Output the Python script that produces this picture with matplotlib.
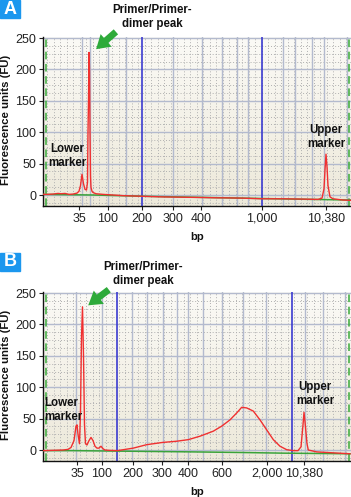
import numpy as np
import matplotlib
matplotlib.use("Agg")
import matplotlib.pyplot as plt
from matplotlib.colors import LinearSegmentedColormap

plt.rcParams['font.family'] = ['Liberation Sans', 'DejaVu Sans']

W, H = 351, 497

# x axis is migration position (arbitrary units, 0..308); labels are bp
a_tick_pos = [36, 65, 99, 130, 158, 219, 283]
a_tick_lab = ['35', '100', '200', '300', '400', '1,000', '10,380']
a_blue = [99, 219]

a_red_x = [0, 5, 10, 15, 18, 22, 26, 30, 34, 36, 37.5, 39, 40.5, 42, 43.5, 44.5, 45, 45.5,
           46, 46.5, 47, 47.5, 48, 49, 50, 53, 60, 70, 80, 99, 120, 140, 160, 175, 180, 200,
           219, 240, 260, 275, 279, 281, 282, 283, 284, 285, 287, 290, 295, 300, 308]
a_red_y = [1, 1, 1.5, 2.5, 2, 2.5, 1, 1.5, 3, 6, 15, 33, 18, 9, 8, 20, 100, 150,
           227, 200, 100, 30, 12, 6, 4, 2, 1, 0, -1, -2, -3, -3.5, -4, -4.5, -4.5, -5,
           -6, -6, -6.5, -7, -5, 10, 40, 65, 45, 15, -3, -6, -7, -8, -8.5]
a_green_x = [0, 50, 100, 150, 200, 250, 308]
a_green_y = [1, 0, -2, -3.5, -5, -6.5, -8]

b_tick_pos = [34, 59, 90, 119, 145, 179, 224, 261]
b_tick_lab = ['35', '100', '200', '300', '400', '600', '2,000', '10,380']
b_blue = [74, 249]

b_red_x = [0, 10, 20, 25, 28, 31, 33, 34, 35, 36.5, 37.5, 38.5, 39.5, 40.5, 41.5, 42.5, 44,
           46, 48, 50, 52, 54, 56, 58, 60, 62, 66, 74.3, 90.3, 103.7, 119.3, 133.7, 145.3,
           157, 170.3, 178.7, 187, 193.7, 198.7, 203.7, 210.3, 217, 223.7, 230.3, 237,
           243.7, 250.3, 255, 258, 260, 261, 262, 264, 265.3, 273.7, 290, 307]
b_red_y = [-1, -0.5, 0, 1, 4, 15, 38, 40, 25, 10, 60, 180, 228, 150, 40, 10, 8,
           15, 20, 15, 6, 3, 3, 6, 2, 0, -0.5, -1, 3, 8.5, 12, 14, 16.5,
           22, 30, 38, 48, 59, 68, 67, 62, 48, 32, 16.5, 6,
           0.5, -1, -1, 5, 40, 60, 45, 10, 0, -3, -4.5, -6]
b_green_x = [0, 30, 60, 90, 150, 200, 240, 307]
b_green_y = [-1, -1, -1.5, -2, -3, -4, -5, -6]

bg_cmap = LinearSegmentedColormap.from_list('bg', ['#ede9da', '#fbfaf6'])


def fx(px):
    return px / W


def fy(py):
    return 1 - py / H


def draw_panel(ax, tick_pos, tick_lab, blue, rx, ry, gx, gy, solid_grid):
    x0, x1, y0, y1 = 0, 308, -17.5, 251.6
    grad = np.linspace(0, 1, 100).reshape(-1, 1)
    ax.imshow(grad, aspect='auto', cmap=bg_cmap, origin='lower',
              extent=(x0, x1, y0, y1), zorder=0)
    # dotted grid
    for xv in np.arange(4, 308, 6.5):
        ax.axvline(xv, color='#b0b0b0', lw=0.7, ls=(0, (1, 2)), zorder=1)
    for yv in np.arange(-12.5, 251, 12.5):
        ax.axhline(yv, color='#b0b0b0', lw=0.7, ls=(0, (1, 2)), zorder=1)
    # solid grid
    for xv in solid_grid:
        ax.axvline(xv, color='#b3bace', lw=1.0, zorder=1.5)
    for yv in range(0, 251, 50):
        ax.axhline(yv, color='#b3bace', lw=1.0, zorder=1.5)
    for xv in blue:
        ax.axvline(xv, color='#3b3bd0', lw=1.2, zorder=2)
    ax.axvline(3, color='#3aaa3a', lw=1.1, ls=(0, (5, 3)), zorder=2)
    ax.axvline(306, color='#3aaa3a', lw=1.1, ls=(0, (5, 3)), zorder=2)
    ax.plot(gx, gy, color='#3aa33a', lw=1.1, zorder=3)
    ax.plot(rx, ry, color='#f03030', lw=1.0, zorder=4)
    ax.set_xlim(x0, x1)
    ax.set_ylim(y0, y1)
    ax.set_yticks(range(0, 251, 50))
    ax.set_xticks(tick_pos)
    ax.set_xticklabels(tick_lab)
    ax.tick_params(labelsize=9, colors='#222222', length=3, width=0.8, pad=2)
    for s in ['top', 'right']:
        ax.spines[s].set_visible(False)
    for s in ['left', 'bottom']:
        ax.spines[s].set_linewidth(1.0)
        ax.spines[s].set_color('#111111')


fig = plt.figure(figsize=(W / 100, H / 100), dpi=100)
axA = fig.add_axes([fx(43), fy(206), fx(308), 169 / H])
axB = fig.add_axes([fx(43), fy(461), fx(308), 169 / H])

draw_panel(axA, a_tick_pos, a_tick_lab, a_blue, a_red_x, a_red_y, a_green_x, a_green_y,
           [39, 47, 65, 83, 130, 159, 179, 194, 205, 240, 252, 269, 281, 304])
draw_panel(axB, b_tick_pos, b_tick_lab, b_blue, b_red_x, b_red_y, b_green_x, b_green_y,
           [33, 59, 89, 104, 120, 134, 145, 160, 179, 200, 223, 262, 280, 302])

bold = dict(fontweight='bold', color='#111111')
for label, top in [('A', 0), ('B', 253)]:
    fig.patches.append(plt.Rectangle((0, fy(top + 18)), fx(20), 18 / H,
                                     transform=fig.transFigure, color='#1b97ee', zorder=5))
    fig.text(fx(10), fy(top + 9), label, color='white', fontsize=13, fontweight='bold',
             ha='center', va='center', zorder=6)

for yc, ybp in [(120, 237), (375, 492)]:
    fig.text(fx(6), fy(yc), 'Fluorescence units (FU)', rotation=90, ha='center',
             va='center', fontsize=8.2, **bold)
    fig.text(fx(197), fy(ybp), 'bp', ha='center', va='center', fontsize=8.2, **bold)

fs = 8.3
# panel A annotations
fig.text(fx(152), fy(17), 'Primer/Primer-\ndimer peak', ha='center', va='center',
         fontsize=fs, linespacing=1.2, **bold)
fig.text(fx(67), fy(156), 'Lower\nmarker', ha='center', va='center',
         fontsize=fs, linespacing=1.2, **bold)
fig.text(fx(326), fy(137), 'Upper\nmarker', ha='center', va='center',
         fontsize=fs, linespacing=1.2, **bold)
# panel B annotations
fig.text(fx(143), fy(274), 'Primer/Primer-\ndimer peak', ha='center', va='center',
         fontsize=fs, linespacing=1.2, **bold)
fig.text(fx(44), fy(410), 'Lower\nmarker', ha='left', va='center',
         fontsize=fs, linespacing=1.2, **bold)
fig.text(fx(315), fy(394), 'Upper\nmarker', ha='center', va='center',
         fontsize=fs, linespacing=1.2, **bold)

arrow = dict(arrowstyle='simple,head_width=1.0,head_length=0.8,tail_width=0.4',
             color='#2eaa3a', lw=0)
fig.patches.append(matplotlib.patches.FancyArrowPatch(
    (fx(118), fy(30)), (fx(94), fy(51)), transform=fig.transFigure,
    mutation_scale=12, **arrow))
fig.patches.append(matplotlib.patches.FancyArrowPatch(
    (fx(111), fy(288)), (fx(86), fy(307)), transform=fig.transFigure,
    mutation_scale=12, **arrow))

fig.savefig('out.png', dpi=100)
